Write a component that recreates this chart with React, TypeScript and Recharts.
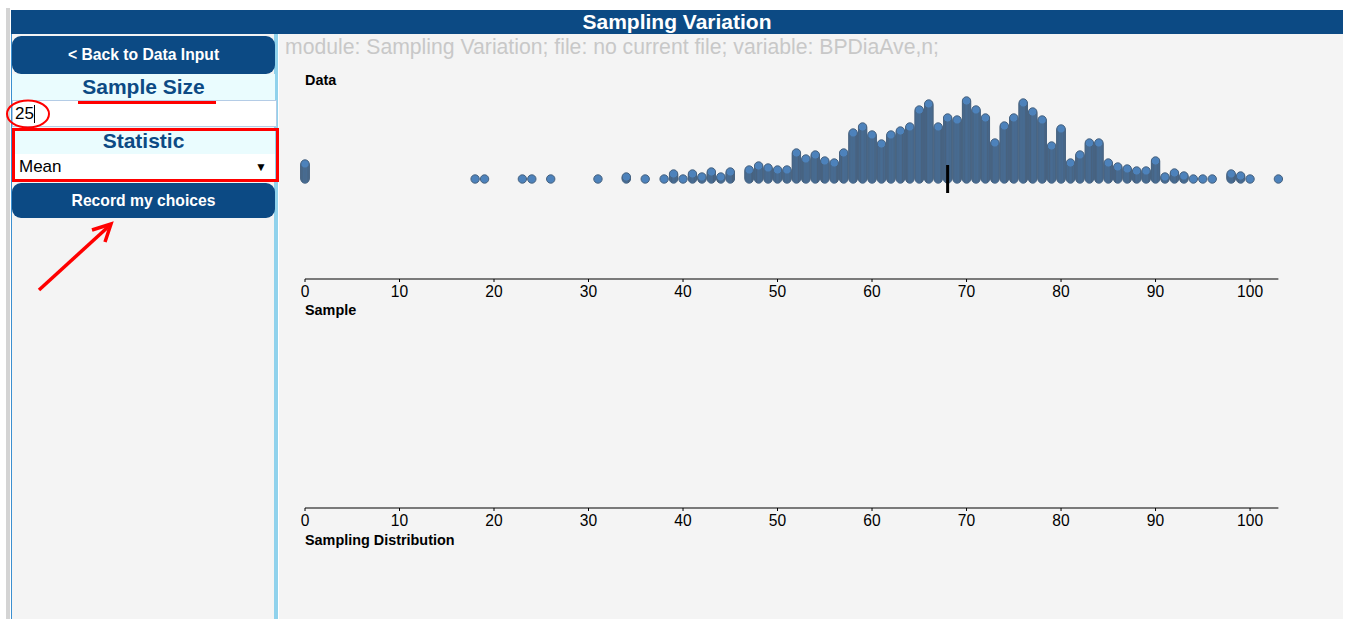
import React from "react";
import { ScatterChart, Scatter, XAxis, YAxis } from "recharts";

// observed values of BPDiaAve (integer bins) and how many cases fall in each
const values = [0, 18, 19, 23, 24, 26, 31, 34, 36, 38, 39, 40, 41, 42, 43, 44, 45, 47, 48, 49, 50, 51, 52, 53, 54, 55, 56, 57, 58, 59, 60, 61, 62, 63, 64, 65, 66, 67, 68, 69, 70, 71, 72, 73, 74, 75, 76, 77, 78, 79, 80, 81, 82, 83, 84, 85, 86, 87, 88, 89, 90, 91, 92, 93, 94, 95, 96, 98, 99, 100, 103];
const counts = [16, 1, 1, 1, 1, 1, 1, 3, 1, 1, 6, 1, 6, 3, 8, 3, 8, 10, 14, 12, 10, 10, 27, 21, 25, 19, 17, 27, 47, 53, 45, 36, 45, 49, 53, 70, 76, 53, 62, 60, 79, 70, 62, 37, 54, 62, 77, 68, 60, 34, 51, 17, 25, 37, 37, 17, 13, 11, 9, 9, 19, 3, 7, 4, 1, 1, 1, 6, 4, 1, 1];
const axisTicks = [0, 10, 20, 30, 40, 50, 60, 70, 80, 90, 100];
const meanValue = [68];

// one point per case, stacked upward
const dots: { x: number; y: number }[] = [];
values.forEach((v, i) => {
  for (let k = 0; k < counts[i]; k++) dots.push({ x: v, y: k });
});
const meanPts = meanValue.map((m) => ({ x: m, y: 0 }));

const blue = "#0c4a84";
const font = "Arial, 'Liberation Sans', sans-serif";

const Dot = (p: any) => <circle cx={p.cx} cy={p.cy} r={4.2} fill="#4d82bb" stroke="#47627f" strokeWidth={1} />;
const MeanMark = (p: any) => <rect x={p.cx - 1.5} y={p.cy - 14} width={3} height={28} fill="#000" />;

function DotAxis({ data, mean, empty }: { data: { x: number; y: number }[]; mean?: { x: number; y: number }[]; empty?: boolean }) {
  return (
    <ScatterChart width={1064} height={260} margin={{ top: 0, right: 64.6, bottom: 11, left: 26 }}>
      <XAxis
        type="number"
        dataKey="x"
        domain={[0, 103]}
        ticks={axisTicks}
        allowDataOverflow={!!empty}
        interval={0}
        height={30}
        tickSize={3}
        tickMargin={4}
        tick={{ fontSize: 15.6, fill: "#000", fontFamily: font }}
        axisLine={{ stroke: "#000" }}
        tickLine={{ stroke: "#000" }}
      />
      <YAxis type="number" dataKey="y" domain={[-100, 119]} allowDataOverflow={!!empty} hide />
      <Scatter data={data} shape={Dot} isAnimationActive={false} />
      {mean && <Scatter data={mean} shape={MeanMark} isAnimationActive={false} />}
    </ScatterChart>
  );
}

const btn: React.CSSProperties = {
  position: "absolute", left: 12, width: 263, background: blue, color: "#fff", borderRadius: 9,
  fontWeight: 700, fontSize: 15.7, display: "flex", alignItems: "center", justifyContent: "center",
};
const label: React.CSSProperties = {
  position: "absolute", left: 12, width: 263, height: 26, background: "#eafcfe", color: blue,
  fontWeight: 700, fontSize: 21, display: "flex", alignItems: "center", justifyContent: "center",
};
const small: React.CSSProperties = { position: "absolute", left: 305, fontWeight: 700, fontSize: 14.4, color: "#000", lineHeight: "16px" };

export default function App() {
  return (
    <div style={{ position: "absolute", left: 0, top: 0, width: 1345, height: 619, background: "#fff", overflow: "hidden", fontFamily: font }}>
      <div style={{ position: "absolute", left: 6, top: 8, width: 4, height: 611, background: "#d4d4d4" }} />
      <div style={{ position: "absolute", left: 11, top: 10, width: 1332, height: 24, background: blue, color: "#fff", fontWeight: 700, fontSize: 21, display: "flex", alignItems: "center", justifyContent: "center" }}>
        Sampling Variation
      </div>
      {/* left panel */}
      <div style={{ position: "absolute", left: 11, top: 34, width: 263, height: 585, background: "#f4f4f4", borderLeft: "1px solid #3b8fd0" }} />
      <div style={{ position: "absolute", left: 274, top: 34, width: 4, height: 585, background: "#90d2ec" }} />
      <div style={{ ...btn, top: 36, height: 38 }}>&lt; Back to Data Input</div>
      <div style={{ ...label, top: 74 }}>Sample Size</div>
      <div style={{ position: "absolute", left: 12, top: 100, width: 261, height: 25, background: "#fff", border: "1px solid #b4cce6", fontSize: 17, display: "flex", alignItems: "center", paddingLeft: 2 }}>
        25<span style={{ display: "inline-block", width: 1, height: 18, background: "#000" }} />
      </div>
      <div style={{ ...label, top: 128 }}>Statistic</div>
      <div style={{ position: "absolute", left: 12, top: 154, width: 263, height: 26, background: "#fff", fontSize: 17, display: "flex", alignItems: "center", justifyContent: "space-between", boxSizing: "border-box", padding: "0 8px 0 7px" }}>
        <span>Mean</span><span style={{ fontSize: 12 }}>▼</span>
      </div>
      <div style={{ ...btn, top: 183, height: 35 }}>Record my choices</div>
      {/* right panel */}
      <div style={{ position: "absolute", left: 279, top: 34, width: 1064, height: 585, background: "#f4f4f4" }} />
      <div style={{ position: "absolute", left: 285, top: 35, fontSize: 21.2, color: "#c8c8c8", whiteSpace: "nowrap" }}>
        module: Sampling Variation; file: no current file; variable: BPDiaAve,n;
      </div>
      <div style={{ ...small, top: 72 }}>Data</div>
      <div style={{ position: "absolute", left: 279, top: 60 }}>
        <DotAxis data={dots} mean={meanPts} />
      </div>
      <div style={{ ...small, top: 302 }}>Sample</div>
      <div style={{ position: "absolute", left: 279, top: 289 }}>
        <DotAxis data={[]} empty />
      </div>
      <div style={{ ...small, top: 532 }}>Sampling Distribution</div>
      {/* red annotations */}
      <svg width={1345} height={619} style={{ position: "absolute", left: 0, top: 0, pointerEvents: "none" }}>
        <line x1={78} y1={102.5} x2={216} y2={102.5} stroke="#f00" strokeWidth={3} />
        <ellipse cx={28} cy={114} rx={21} ry={13.5} fill="none" stroke="#f00" strokeWidth={2} />
        <rect x={13.5} y={129.5} width={264} height={51} fill="none" stroke="#f00" strokeWidth={3} />
        <line x1={39} y1={290} x2={108} y2={227} stroke="#f00" strokeWidth={3.5} />
        <polyline points="92,230 111,224 105,242" fill="none" stroke="#f00" strokeWidth={3.5} />
      </svg>
    </div>
  );
}
